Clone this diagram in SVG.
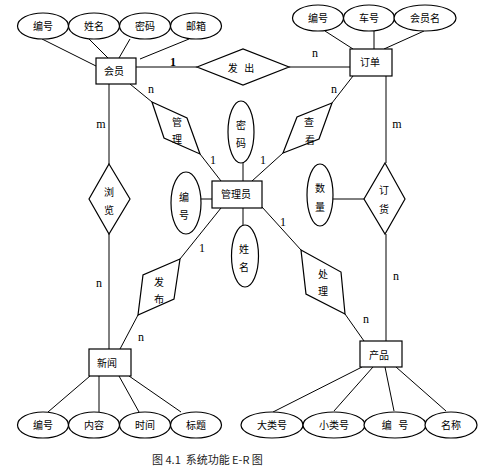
<svg xmlns="http://www.w3.org/2000/svg" width="481" height="473" viewBox="0 0 481 473">
<style>
.s{fill:none;stroke:#000;stroke-width:1}
.b{fill:#fff;stroke:#000;stroke-width:1.2}
.t{font-family:"Noto Sans CJK SC","Noto Sans",sans-serif;font-size:10px;fill:#000;text-anchor:middle;white-space:pre}
.c{font-family:"Liberation Serif",serif;font-size:12px;fill:#000;text-anchor:middle}
</style>
<rect width="481" height="473" fill="#fff"/>
<g id="connectors" class="s">
<line x1="42" y1="39" x2="96" y2="66"/>
<line x1="89" y1="39" x2="108" y2="58"/>
<line x1="130" y1="39" x2="119" y2="58"/>
<line x1="189" y1="39" x2="140" y2="59"/>
<line x1="136" y1="67" x2="197" y2="67"/>
<line x1="289" y1="67" x2="350" y2="67"/>
<line x1="325" y1="31" x2="353" y2="49"/>
<line x1="374" y1="31" x2="374" y2="49"/>
<line x1="424" y1="31" x2="384" y2="49"/>
<line x1="386" y1="76" x2="386" y2="163"/>
<line x1="386" y1="234" x2="386" y2="341"/>
<line x1="333" y1="199" x2="364" y2="199"/>
<line x1="109" y1="84" x2="109" y2="164"/>
<line x1="109" y1="234" x2="109" y2="349"/>
<line x1="130" y1="84" x2="152" y2="102"/>
<line x1="200" y1="154" x2="221" y2="181"/>
<line x1="353" y1="76" x2="332" y2="103"/>
<line x1="283" y1="153" x2="252" y2="181"/>
<line x1="262" y1="207" x2="301" y2="250"/>
<line x1="345" y1="314" x2="364" y2="341"/>
<line x1="221" y1="208" x2="180" y2="259"/>
<line x1="138" y1="315" x2="120" y2="349"/>
<line x1="243" y1="163" x2="243" y2="181"/>
<line x1="243" y1="208" x2="243" y2="225"/>
<line x1="201" y1="199" x2="212" y2="199"/>
<line x1="48" y1="412" x2="90" y2="376"/>
<line x1="99" y1="412" x2="99" y2="376"/>
<line x1="139" y1="412" x2="119" y2="376"/>
<line x1="181" y1="412" x2="129" y2="376"/>
<line x1="273" y1="412" x2="362" y2="367"/>
<line x1="334" y1="411" x2="373" y2="367"/>
<line x1="394" y1="411" x2="385" y2="367"/>
<line x1="446" y1="411" x2="396" y2="367"/>
</g>
<g id="labels">
<text class="c" x="173" y="66" font-weight="bold" font-size="13">1</text>
<text class="c" x="315" y="57">n</text>
<text class="c" x="151" y="93">n</text>
<text class="c" x="213" y="164">1</text>
<text class="c" x="334" y="93">n</text>
<text class="c" x="263" y="164">1</text>
<text class="c" x="101" y="128">m</text>
<text class="c" x="397" y="128">m</text>
<text class="c" x="283" y="226">1</text>
<text class="c" x="202" y="252">1</text>
<text class="c" x="99" y="287">n</text>
<text class="c" x="396" y="280">n</text>
<text class="c" x="141" y="341">n</text>
<text class="c" x="366" y="323">n</text>
</g>
<g id="e_hy_bh"><ellipse class="b" cx="43" cy="26" rx="25.5" ry="13"/><text class="t" x="43" y="30">编号</text></g>
<g id="e_hy_xm"><ellipse class="b" cx="94" cy="26" rx="25.5" ry="13"/><text class="t" x="94" y="30">姓名</text></g>
<g id="e_hy_mm"><ellipse class="b" cx="145" cy="26" rx="25.5" ry="13"/><text class="t" x="145" y="30">密码</text></g>
<g id="e_hy_yx"><ellipse class="b" cx="196" cy="26" rx="25.5" ry="13"/><text class="t" x="196" y="30">邮箱</text></g>
<g id="huiyuan"><rect class="b" x="96" y="58" width="40" height="26"/><text class="t" x="114" y="75">会员</text></g>
<g id="fachu"><polygon class="b" points="197,67 243,49 289,67 243,85"/><text class="t" x="241" y="72" xml:space="preserve">发   出</text></g>
<g id="e_dd_bh"><ellipse class="b" cx="318" cy="18" rx="25.5" ry="13"/><text class="t" x="318" y="22">编号</text></g>
<g id="e_dd_ch"><ellipse class="b" cx="369" cy="18" rx="25.5" ry="13"/><text class="t" x="369" y="22">车号</text></g>
<g id="e_dd_hym"><ellipse class="b" cx="425" cy="18" rx="31" ry="13"/><text class="t" x="425" y="22">会员名</text></g>
<g id="dingdan"><rect class="b" x="350" y="49" width="42" height="27"/><text class="t" x="370" y="66">订单</text></g>
<g id="guanli"><polygon class="b" points="152,102 187,118 200,154 164,138"/><text class="t" x="177" y="126">管</text><text class="t" x="177" y="143">理</text></g>
<g id="chakan"><polygon class="b" points="332,103 297,117 283,153 319,139"/><text class="t" x="309" y="126">查</text><text class="t" x="310" y="144">看</text></g>
<g id="e_gly_mm"><ellipse class="b" cx="241" cy="132" rx="13" ry="31"/><text class="t" x="241" y="129">密</text><text class="t" x="241" y="147">码</text></g>
<g id="e_gly_bh"><ellipse class="b" cx="186" cy="203" rx="15" ry="31"/><text class="t" x="184" y="201">编</text><text class="t" x="184" y="219">号</text></g>
<g id="e_gly_xm"><ellipse class="b" cx="245" cy="256" rx="13.5" ry="31"/><text class="t" x="244" y="253">姓</text><text class="t" x="244" y="271">名</text></g>
<g id="guanliyuan"><rect class="b" x="212" y="181" width="50" height="27"/><text class="t" x="236" y="198">管理员</text></g>
<g id="liulan"><polygon class="b" points="109,164 130,199 109,234 89,199"/><text class="t" x="109" y="196">浏</text><text class="t" x="109" y="214">览</text></g>
<g id="e_shuliang"><ellipse class="b" cx="320" cy="195" rx="13" ry="31"/><text class="t" x="320" y="192">数</text><text class="t" x="320" y="211">量</text></g>
<g id="dinghuo"><polygon class="b" points="385,163 405,199 385,234 364,199"/><text class="t" x="384" y="194">订</text><text class="t" x="384" y="213">货</text></g>
<g id="fabu"><polygon class="b" points="180,259 143,275 138,315 174,299"/><text class="t" x="159" y="286">发</text><text class="t" x="159" y="303">布</text></g>
<g id="chuli"><polygon class="b" points="301,250 341,272 345,314 306,294"/><text class="t" x="323" y="278">处</text><text class="t" x="323" y="295">理</text></g>
<g id="xinwen"><rect class="b" x="89" y="349" width="42" height="27"/><text class="t" x="107" y="367">新闻</text></g>
<g id="chanpin"><rect class="b" x="360" y="341" width="42" height="26"/><text class="t" x="379" y="359">产品</text></g>
<g id="e_xw_bh"><ellipse class="b" cx="43" cy="425" rx="25.5" ry="13"/><text class="t" x="43" y="429">编号</text></g>
<g id="e_xw_nr"><ellipse class="b" cx="94" cy="425" rx="25.5" ry="13"/><text class="t" x="94" y="429">内容</text></g>
<g id="e_xw_sj"><ellipse class="b" cx="145" cy="425" rx="25.5" ry="13"/><text class="t" x="145" y="429">时间</text></g>
<g id="e_xw_bt"><ellipse class="b" cx="196" cy="425" rx="25.5" ry="13"/><text class="t" x="196" y="429">标题</text></g>
<g id="e_cp_dlh"><ellipse class="b" cx="272" cy="425" rx="31" ry="13"/><text class="t" x="272" y="429">大类号</text></g>
<g id="e_cp_xlh"><ellipse class="b" cx="334" cy="425" rx="31" ry="13"/><text class="t" x="334" y="429">小类号</text></g>
<g id="e_cp_bh"><ellipse class="b" cx="395" cy="425" rx="31" ry="13"/><text class="t" x="395" y="429" xml:space="preserve">编   号</text></g>
<g id="e_cp_mc"><ellipse class="b" cx="451" cy="425" rx="26" ry="13"/><text class="t" x="451" y="429">名称</text></g>
<text x="152" y="464" font-family="'Noto Sans CJK SC','Liberation Sans',sans-serif" font-size="11" fill="#222" xml:space="preserve" style="white-space:pre">图 4.1  系统功能 E-R 图</text>
</svg>
